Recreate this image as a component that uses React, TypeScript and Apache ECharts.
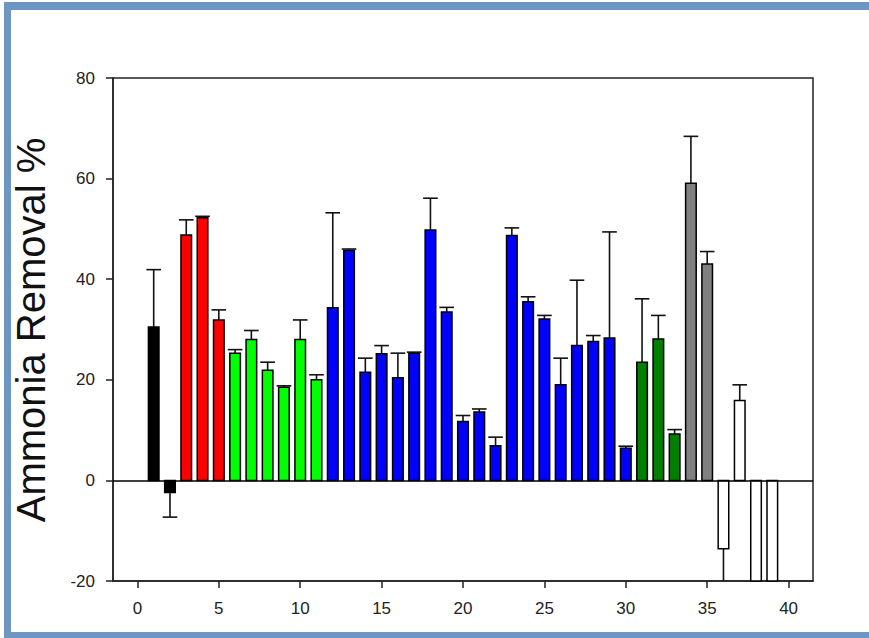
import React, { useEffect, useRef } from "react";
import * as echarts from "echarts";

// Sample positions along the x axis
const positions = [
  1, 2, 3, 4, 5, 6, 7, 8, 9, 10, 11, 12, 13, 14, 15, 16, 17, 18, 19, 20,
  21, 22, 23, 24, 25, 26, 27, 28, 29, 30, 31, 32, 33, 34, 35, 36, 37, 38, 39,
];

// Ammonia removal (%) per sample
const removal = [
  30.5, -2.4, 48.8, 52.2, 31.9, 25.3, 28.0, 21.9, 18.5, 28.0, 20.0, 34.3, 45.7,
  21.5, 25.2, 20.4, 25.3, 49.8, 33.5, 11.7, 13.6, 6.9, 48.7, 35.5, 32.1, 19.0,
  26.8, 27.6, 28.3, 6.4, 23.5, 28.1, 9.2, 59.1, 43.0, -13.6, 15.9, -35.0, -30.0,
];

// Error (one-sided) per sample
const errors = [
  11.4, 4.9, 3.0, 0.3, 2.0, 0.7, 1.8, 1.6, 0.3, 3.9, 1.0, 18.9, 0.3, 2.8, 1.6,
  4.9, 0.2, 6.3, 0.9, 1.2, 0.6, 1.7, 1.5, 1.0, 0.7, 5.3, 13.0, 1.2, 21.1, 0.4,
  12.6, 4.7, 0.9, 9.3, 2.5, 8.0, 3.1, 5.0, 5.0,
];

// Treatment group per sample
const groups = [
  "G1", "G1", "G2", "G2", "G2", "G3", "G3", "G3", "G3", "G3", "G3", "G4", "G4",
  "G4", "G4", "G4", "G4", "G4", "G4", "G4", "G4", "G4", "G4", "G4", "G4", "G4",
  "G4", "G4", "G4", "G4", "G5", "G5", "G5", "G6", "G6", "G7", "G7", "G7", "G7",
];

const xTicks = [0, 5, 10, 15, 20, 25, 30, 35, 40];

const groupColors: Record<string, string> = {
  G1: "#000000",
  G2: "#ff0000",
  G3: "#00ff00",
  G4: "#0000ff",
  G5: "#007f00",
  G6: "#808080",
  G7: "#ffffff",
};

const FONT = "'Liberation Sans', Arial, Helvetica, sans-serif";

export default function App() {
  const ref = useRef<HTMLDivElement>(null);

  useEffect(() => {
    if (!ref.current) return;
    const chart = echarts.init(ref.current, undefined, { renderer: "svg" });

    const data = positions.map((x, i) => ({
      value: [x, removal[i], errors[i]],
      itemStyle: { color: groupColors[groups[i]] },
    }));

    const BAR_W = 0.65;
    const CAP_W = 0.9;

    const renderItem = (params: any, api: any) => {
      const x = api.value(0);
      const v = api.value(1);
      const e = api.value(2);
      const cs = params.coordSys;
      const top = cs.y;
      const bottom = cs.y + cs.height;
      const clamp = (y: number) => Math.max(top, Math.min(bottom, y));
      const p0 = api.coord([x, 0]);
      const p1 = api.coord([x, v]);
      const pe = api.coord([x, v >= 0 ? v + e : v - e]);
      const bw = api.size([BAR_W, 0])[0];
      const cw = api.size([CAP_W, 0])[0];
      const y0 = clamp(p0[1]);
      const y1 = clamp(p1[1]);
      const ye = clamp(pe[1]);
      const children: any[] = [];
      if (Math.abs(ye - y1) > 0.1) {
        children.push({
          type: "line",
          shape: { x1: p0[0], y1: y1, x2: p0[0], y2: ye },
          style: { stroke: "#111", lineWidth: 1.6 },
        });
      }
      if (pe[1] >= top - 0.5 && pe[1] <= bottom + 0.5) {
        children.push({
          type: "line",
          shape: { x1: p0[0] - cw / 2, y1: pe[1], x2: p0[0] + cw / 2, y2: pe[1] },
          style: { stroke: "#111", lineWidth: 1.6 },
        });
      }
      children.push({
        type: "rect",
        shape: {
          x: p0[0] - bw / 2,
          y: Math.min(y0, y1),
          width: bw,
          height: Math.abs(y1 - y0),
        },
        style: { fill: api.visual("color"), stroke: "#000", lineWidth: 1.5 },
      });
      return { type: "group", children };
    };

    const option: any = {
      animation: false,
      backgroundColor: "#ffffff",
      grid: {
        left: 113,
        top: 78,
        right: 56,
        bottom: 57,
        show: true,
        borderColor: "#222",
        borderWidth: 1.5,
        backgroundColor: "transparent",
      },
      xAxis: {
        type: "value",
        min: -1.5,
        max: 41.5,
        splitLine: { show: false },
        axisLine: { onZero: false, lineStyle: { color: "#222", width: 1.5 } },
        axisTick: {
          show: true,
          inside: false,
          length: 7,
          customValues: xTicks,
          lineStyle: { color: "#222", width: 1.5 },
        },
        axisLabel: {
          customValues: xTicks,
          margin: 19,
          color: "#222",
          fontSize: 17,
          fontFamily: FONT,
        },
      },
      yAxis: {
        type: "value",
        min: -20,
        max: 80,
        interval: 20,
        splitLine: { show: false },
        axisLine: { show: true, onZero: false, lineStyle: { color: "#222", width: 1.5 } },
        axisTick: {
          show: true,
          inside: false,
          length: 7,
          lineStyle: { color: "#222", width: 1.5 },
        },
        axisLabel: {
          margin: 18,
          color: "#222",
          fontSize: 17,
          fontFamily: FONT,
        },
      },
      graphic: [
        { type: "rect", shape: { x: 4, y: 2, width: 865, height: 8 }, style: { fill: "#6c97c3" } },
        { type: "rect", shape: { x: 4, y: 2, width: 7, height: 636 }, style: { fill: "#6c97c3" } },
        { type: "rect", shape: { x: 4, y: 632, width: 865, height: 6 }, style: { fill: "#6c97c3" } },
        {
          type: "text",
          x: 31,
          y: 330,
          rotation: Math.PI / 2,
          style: {
            text: "Ammonia Removal %",
            fontSize: 40,
            fontFamily: FONT,
            fill: "#111",
            textAlign: "center",
            textVerticalAlign: "middle",
          },
        },
      ],
      series: [
        {
          type: "custom",
          renderItem,
          data,
          encode: { x: 0, y: 1 },
          markLine: {
            silent: true,
            symbol: "none",
            label: { show: false },
            lineStyle: { color: "#000", width: 1.5, type: "solid" },
            data: [{ yAxis: 0 }],
          },
        },
      ],
    };

    chart.setOption(option);
    return () => chart.dispose();
  }, []);

  return (
    <div
      ref={ref}
      style={{ position: "fixed", left: 0, top: 0, width: 869, height: 638 }}
    />
  );
}
